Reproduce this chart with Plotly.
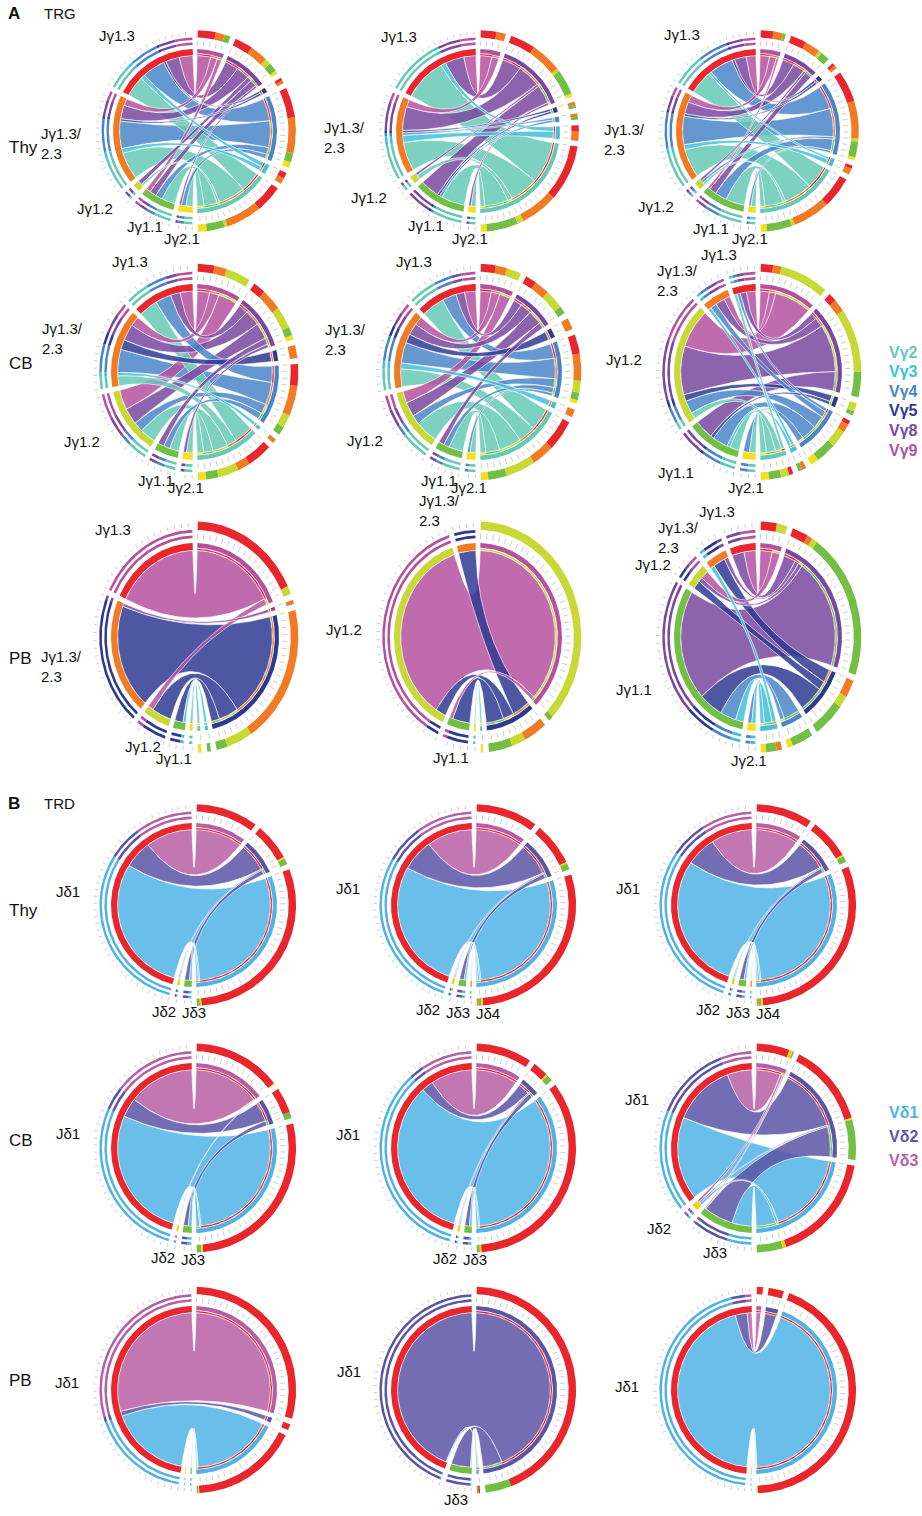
import numpy as np
import plotly.graph_objects as go

W, H = 922, 1516

# gene order: J genes listed from 12 o'clock going anticlockwise,
# V genes listed from 12 o'clock going clockwise
trg_j = ["Jγ1.3", "Jγ1.3/<br>2.3", "Jγ1.2", "Jγ1.1", "Jγ2.1"]
trg_v = ["Vγ9", "Vγ8", "Vγ5", "Vγ4", "Vγ3", "Vγ2"]
trd_j = ["Jδ1", "Jδ2", "Jδ3", "Jδ4"]
trd_v = ["Vδ3", "Vδ2", "Vδ1"]

trg_j_colors = ["#e8262b", "#f17a23", "#c8d936", "#72bf44", "#f5e020"]
trg_v_colors = ["#b5519f", "#7a48a0", "#2e3a92", "#4a85c9", "#3fc0dc", "#66c9b6"]
trd_j_colors = ["#e8262b", "#f3d016", "#72bf44", "#f17a23"]
trd_v_colors = ["#b75fa6", "#5b55a7", "#4fb3e6"]

# J x V usage (% of reads), rows follow trg_j / trd_j, columns trg_v / trd_v
trg_thy_1 = [[6, 6, 1, 10, 2, 9],
             [3, 6, 1, 12, 2, 12],
             [0, 2, 0, 0, 0, 1],
             [2, 3, 0, 3, 0, 6],
             [0, 1, 0, 2, 0, 3]]
trg_thy_2 = [[5, 8, 0, 0, 2, 18],
             [3, 10, 1, 1, 3, 12],
             [0, 1, 0, 0, 0, 2],
             [0, 8, 1, 1, 0, 10],
             [0, 1, 0, 0, 0, 2]]
trg_thy_3 = [[4, 5, 1, 10, 1, 10],
             [3, 5, 1, 12, 2, 12],
             [0, 1, 0, 1, 0, 1],
             [1, 3, 0, 5, 0, 8],
             [0, 0, 0, 1, 0, 2]]
trg_cb_1 = [[4, 3, 0, 5, 0, 6],
            [3, 5, 3, 7, 1, 3],
            [6, 5, 0, 3, 0, 5],
            [0, 2, 0, 2, 0, 3],
            [0, 1, 0, 0, 0, 2]]
trg_cb_2 = [[4, 3, 0, 5, 0, 8],
            [3, 4, 3, 7, 2, 6],
            [4, 5, 0, 3, 0, 8],
            [0, 2, 0, 2, 0, 5],
            [0, 0, 0, 1, 0, 2]]
trg_cb_3 = [[3, 2, 0, 1, 0, 1],
            [2, 3, 0, 2, 1, 0],
            [12, 15, 2, 4, 0, 2],
            [0, 6, 1, 5, 1, 3],
            [0, 0, 0, 2, 0, 2]]
trg_pb_1 = [[30, 0, 0, 0, 0, 0],
            [0, 1, 34, 0, 0, 0],
            [2, 0, 7, 0, 0, 0],
            [0, 0, 3, 0, 1, 0],
            [0, 0, 0, 0, 0, 1]]
trg_pb_2 = [[0, 0, 0, 0, 0, 0],
            [0, 0, 5, 0, 0, 0],
            [50, 0, 3, 0, 0, 0],
            [1, 0, 5, 0, 0, 0],
            [0, 0, 0, 0, 0.5, 0]]
trg_pb_3 = [[3, 3, 0, 0, 0, 0],
            [0, 1, 3, 0, 1, 0],
            [2, 1, 2, 0, 0, 0],
            [0, 25, 6, 4, 2, 0],
            [0, 0, 0, 1, 1, 0]]

trd_thy_1 = [[20, 12, 60], [0, 0.5, 0.5], [0, 2, 1], [0, 0, 0]]
trd_thy_2 = [[20, 14, 58], [0, 0.5, 0.5], [0, 2, 1], [0, 0, 0.5]]
trd_thy_3 = [[18, 13, 60], [0, 0.5, 0.5], [0, 2, 1], [0, 0, 0.5]]
trd_cb_1 = [[28, 8, 55], [0.3, 0, 0.5], [0, 2, 1.5], [0, 0, 0]]
trd_cb_2 = [[18, 5, 70], [0, 0.5, 0.5], [0, 2, 1], [0, 0, 0]]
trd_cb_3 = [[10, 25, 33], [1, 0.5, 1], [0.5, 12, 8], [0, 0, 0]]
trd_pb_1 = [[60, 2, 35], [0, 0, 0.3], [0, 0, 0.5], [0, 0, 0]]
trd_pb_2 = [[0, 85, 0.5], [0, 0, 0], [0, 8, 0.5], [0, 0, 0]]
trd_pb_3 = [[2, 5, 90], [0, 0, 0.3], [0, 0, 0], [0, 0, 0]]

# which J labels are written next to each circle
trg_labels = [[0, 1, 2, 3, 4], [0, 1, 2, 3, 4], [0, 1, 2, 3, 4],
              [0, 1, 2, 3, 4], [0, 1, 2, 3, 4], [0, 1, 2, 3, 4],
              [0, 1, 2, 3], [1, 2, 3], [0, 1, 2, 3, 4]]
trd_labels = [[0, 1, 2], [0, 1, 2, 3], [0, 1, 2, 3],
              [0, 1, 2], [0, 1, 2], [0, 1, 2],
              [0], [0, 2], [0]]

tissues = ["Thy", "CB", "PB"]

# placement of the circles (pixels)
a_cols, a_rows = [195, 478, 758], [131, 372, 637]
a_rx, a_ry = [82, 84, 84], [82, 88, 94]
b_cols, b_rows = [194, 474, 754], [905, 1148, 1390]
b_rx, b_ry = [83, 83, 83], [82, 85, 84]
a_title_y = [147, 363, 658]
b_title_y = [910, 1140, 1380]

GAP = np.radians(3.2)
R_RIB = 0.92


def pt(d, r, t):
    return d["cx"] + r * d["rx"] * np.sin(t), d["cy"] - r * d["ry"] * np.cos(t)


def band(d, r1, r2, t1, t2):
    n = max(4, int(abs(t2 - t1) / 0.012) + 2)
    t = np.linspace(t1, t2, n)
    xo, yo = pt(d, r2, t)
    xi, yi = pt(d, r1, t[::-1])
    return np.r_[xo, xi, xo[:1]], np.r_[yo, yi, yo[:1]]


def arc(d, r, t1, t2):
    n = max(4, int(abs(t2 - t1) / 0.012) + 2)
    return pt(d, r, np.linspace(t1, t2, n))


def bezier(d, ta, tb, n=50):
    s = np.linspace(0, 1, n)[:, None]
    p0 = np.array([np.sin(ta), np.cos(ta)]) * R_RIB
    p2 = np.array([np.sin(tb), np.cos(tb)]) * R_RIB
    p = (1 - s) ** 2 * p0 + s ** 2 * p2  # control point at the centre
    return d["cx"] + p[:, 0] * d["rx"], d["cy"] - p[:, 1] * d["ry"]


def spans(sizes, order, t0, t1):
    idx = [k for k in order if sizes[k] > 0]
    scale = ((t1 - t0) - GAP * (len(idx) - 1)) / sum(sizes[k] for k in idx)
    out, t = {}, t0
    for k in idx:
        out[k] = (t, t + sizes[k] * scale)
        t += sizes[k] * scale + GAP
    return out, scale


fills = {}   # colour -> (xs, ys) for the rings
ticks_x, ticks_y = [], []
ribbons = []
labels = []


def add_fill(col, x, y):
    xs, ys = fills.setdefault(col, ([], []))
    xs.extend(list(x) + [None])
    ys.extend(list(y) + [None])


def text_box(lab):
    # rough extent of a right-aligned, vertically centred label
    lines = lab[2].split("<br>")
    w = 8.2 * max(len(s) for s in lines)
    h = 17 * len(lines)
    return lab[0] - w, lab[0], lab[1] - h / 2, lab[1] + h / 2


def chord(d, mat, jcol, vcol, jnames, show):
    m = np.array(mat, dtype=float)
    nj, nv = m.shape
    vseg, vs = spans(m.sum(0), list(range(nv)), GAP / 2, np.pi - GAP / 2)
    jseg, js = spans(m.sum(1), list(range(nj))[::-1], np.pi + GAP / 2, 2 * np.pi - GAP / 2)

    vcell, jcell = {}, {}
    for j, (t0, t1) in vseg.items():
        t = t0
        for i in range(nj):
            if m[i, j] > 0:
                vcell[i, j] = (t, t + m[i, j] * vs)
                t += m[i, j] * vs
    for i, (t0, t1) in jseg.items():
        t = t0
        for j in range(nv)[::-1]:
            if m[i, j] > 0:
                jcell[i, j] = (t, t + m[i, j] * js)
                t += m[i, j] * js

    # ribbons
    for (i, j), (b1, b2) in vcell.items():
        a1, a2 = jcell[i, j]
        x1, y1 = arc(d, R_RIB, b1, b2)
        x2, y2 = bezier(d, b2, a1)
        x3, y3 = arc(d, R_RIB, a1, a2)
        x4, y4 = bezier(d, a2, b1)
        ribbons.append((m[i, j], vcol[j], np.r_[x1, x2, x3, x4], np.r_[y1, y2, y3, y4]))

    # rings on the J side
    for i, (t0, t1) in jseg.items():
        add_fill(jcol[i], *band(d, 0.925, 1.0, t0, t1))
        for tt in np.arange(t0, t1 + 1e-6, np.radians(4)):
            xa, ya = pt(d, 1.17, tt)
            xb, yb = pt(d, 1.21, tt)
            ticks_x.extend([xa, xb, None])
            ticks_y.extend([ya, yb, None])
    for (i, j), (a1, a2) in jcell.items():
        add_fill(vcol[j], *band(d, 1.05, 1.08, a1, a2))
        add_fill(vcol[j], *band(d, 1.11, 1.14, a1, a2))

    # rings on the V side
    for j, (t0, t1) in vseg.items():
        add_fill(vcol[j], *band(d, 0.95, 1.0, t0, t1))
        for tt in np.arange(t0, t1 + 1e-6, np.radians(4)):
            xa, ya = pt(d, 1.04, tt)
            xb, yb = pt(d, 1.10, tt)
            ticks_x.extend([xa, xb, None])
            ticks_y.extend([ya, yb, None])
    for (i, j), (b1, b2) in vcell.items():
        add_fill(jcol[i], *band(d, 0.925, 0.94, b1, b2))
        add_fill(jcol[i], *band(d, 1.14, 1.23, b1, b2))

    # J labels: side ones right-aligned, the ones under the circle spread out
    side, bottom = [], []
    for i in show:
        if i not in jseg:
            continue
        tm = np.mean(jseg[i])
        if np.cos(tm) < -0.85:
            x, y = pt(d, 1.32, tm)
            bottom.append([x, y, jnames[i], "center"])
        else:
            x, y = pt(d, 1.36, tm)
            side.append([x, y, jnames[i], "right"])
    side.sort(key=lambda b: b[1])
    for k in range(1, len(side)):
        for p in range(k):
            l1, r1, t1, b1 = text_box(side[p])
            l2, r2, t2, b2 = text_box(side[k])
            if l2 < r1 and l1 < r2 and t2 < b1 and t1 < b2:
                side[k][1] += b1 - t2 + 1
    if bottom:
        mean0 = np.mean([b[0] for b in bottom])
        bottom.sort(key=lambda b: b[0])
        for k in range(1, len(bottom)):
            bottom[k][0] = max(bottom[k][0], bottom[k - 1][0] + 30)
        shift = np.mean([b[0] for b in bottom]) - mean0
        for b in bottom:
            b[0] -= shift
            b[1] = min(b[1], H - 12)
    labels.extend(side + bottom)


trg_data = [trg_thy_1, trg_thy_2, trg_thy_3, trg_cb_1, trg_cb_2, trg_cb_3,
            trg_pb_1, trg_pb_2, trg_pb_3]
trd_data = [trd_thy_1, trd_thy_2, trd_thy_3, trd_cb_1, trd_cb_2, trd_cb_3,
            trd_pb_1, trd_pb_2, trd_pb_3]

for k, mat in enumerate(trg_data):
    r, c = divmod(k, 3)
    d = dict(cx=a_cols[c], cy=a_rows[r], rx=a_rx[r], ry=a_ry[r])
    chord(d, mat, trg_j_colors, trg_v_colors, trg_j, trg_labels[k])
for k, mat in enumerate(trd_data):
    r, c = divmod(k, 3)
    d = dict(cx=b_cols[c], cy=b_rows[r], rx=b_rx[r], ry=b_ry[r])
    chord(d, mat, trd_j_colors, trd_v_colors, trd_j, trd_labels[k])

fig = go.Figure()


def rgba(hexcol, a):
    h = hexcol.lstrip("#")
    return "rgba(%d,%d,%d,%.2f)" % (int(h[0:2], 16), int(h[2:4], 16), int(h[4:6], 16), a)


for size, col, x, y in sorted(ribbons, key=lambda r: -r[0]):
    fig.add_trace(go.Scatter(x=x, y=y, mode="lines", fill="toself",
                             fillcolor=rgba(col, 0.85),
                             line=dict(color="rgba(255,255,255,0.9)", width=0.7),
                             hoverinfo="skip", showlegend=False))

for col, (xs, ys) in fills.items():
    fig.add_trace(go.Scatter(x=xs, y=ys, mode="lines", fill="toself", fillcolor=col,
                             line=dict(width=0), hoverinfo="skip", showlegend=False))

fig.add_trace(go.Scatter(x=ticks_x, y=ticks_y, mode="lines",
                         line=dict(color="#9a9a9a", width=0.5),
                         hoverinfo="skip", showlegend=False))

font = "Liberation Sans, Arial, sans-serif"
ann = []
for x, y, txt, anchor in labels:
    ann.append(dict(x=x, y=y, text=txt, showarrow=False, xanchor=anchor, yanchor="middle",
                    align="left", font=dict(family=font, size=15, color="#111")))

# panel and row titles
titles = [
    dict(x=6, y=13, text="<b>A</b>", font=dict(family=font, size=17, color="#111")),
    dict(x=42, y=13, text="TRG", font=dict(family=font, size=15, color="#111")),
    dict(x=6, y=803, text="<b>B</b>", font=dict(family=font, size=17, color="#111")),
    dict(x=42, y=803, text="TRD", font=dict(family=font, size=15, color="#111")),
]
for r, name in enumerate(tissues):
    titles.append(dict(x=7, y=a_title_y[r], text=name, font=dict(family=font, size=17, color="#111")))
    titles.append(dict(x=7, y=b_title_y[r], text=name, font=dict(family=font, size=17, color="#111")))
for a in titles:
    a.update(showarrow=False, xanchor="left", yanchor="middle")
ann += titles

# colour keys
for k, j in enumerate(range(len(trg_v) - 1, -1, -1)):
    ann.append(dict(x=920, y=352 + 19.6 * k, text="<b>%s</b>" % trg_v[j], showarrow=False,
                    xanchor="right", yanchor="middle",
                    font=dict(family=font, size=16, color=trg_v_colors[j])))
for k, j in enumerate(range(len(trd_v) - 1, -1, -1)):
    ann.append(dict(x=920, y=1112 + 24 * k, text="<b>%s</b>" % trd_v[j], showarrow=False,
                    xanchor="right", yanchor="middle",
                    font=dict(family=font, size=16, color=trd_v_colors[j])))

fig.update_layout(
    width=W, height=H, margin=dict(l=0, r=0, t=0, b=0),
    paper_bgcolor="white", plot_bgcolor="white",
    xaxis=dict(range=[0, W], visible=False, fixedrange=True),
    yaxis=dict(range=[H, 0], visible=False, fixedrange=True),
    annotations=ann, showlegend=False,
)

fig.write_html("out.html", config={"displayModeBar": False},
               post_script="document.body.style.margin='0';document.body.style.overflow='hidden';")
